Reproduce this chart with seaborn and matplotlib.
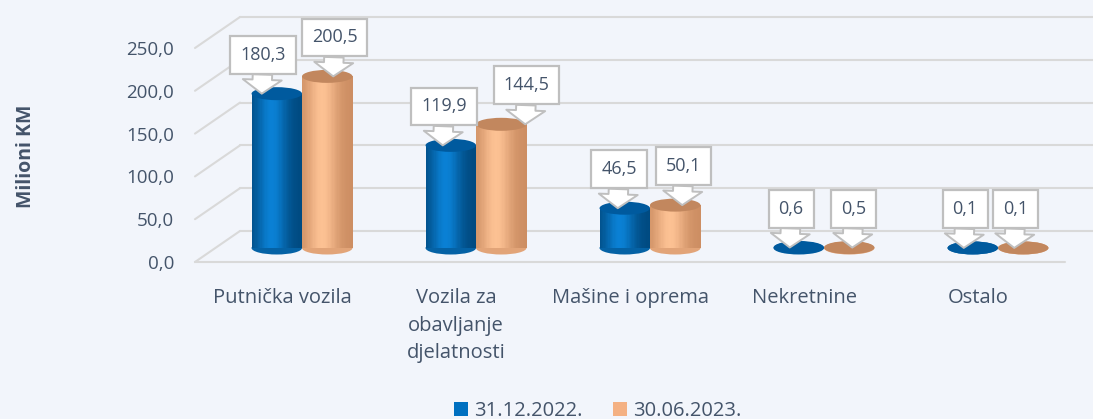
import numpy as np
import pandas as pd
import matplotlib
matplotlib.use("Agg")
import matplotlib.pyplot as plt
import matplotlib.transforms as mtransforms
from matplotlib.patches import Ellipse, Rectangle, Patch
import seaborn as sns

categories = ["Putnička vozila", "Vozila za\nobavljanje\ndjelatnosti", "Mašine i oprema", "Nekretnine", "Ostalo"]
series = ["31.12.2022.", "30.06.2023."]
values_2022 = [180.3, 119.9, 46.5, 0.6, 0.1]
values_2023 = [200.5, 144.5, 50.1, 0.5, 0.1]
yticks = [0, 50, 100, 150, 200, 250]
ytick_labels = ["0,0", "50,0", "100,0", "150,0", "200,0", "250,0"]

# label pointer horizontal offsets (pixels, style only)
tip_off_2022 = [-15, -8, -7, -9, -9]
tip_off_2023 = [6, 24, 7, 3, -9]

df = pd.DataFrame({
    "kat": categories * 2,
    "period": [series[0]] * len(categories) + [series[1]] * len(categories),
    "val": values_2022 + values_2023,
})

BG = "#F2F5FB"
TXT = "#44546A"
GRID = "#D9D9D9"
BLUE = "#0070C0"
ORANGE = "#F4B183"

sns.set_theme(style="white")
plt.rcParams["font.family"] = ["Open Sans", "DejaVu Sans"]

W, H = 1093, 419
fig = plt.figure(figsize=(W / 100, H / 100), dpi=100, facecolor=BG)
ax = fig.add_axes([195 / W, (H - 262) / H, 870 / W, (262 - 48) / H])
ax.set_facecolor("none")

palette = {series[0]: BLUE, series[1]: ORANGE}
sns.barplot(data=df, x="kat", y="val", hue="period", palette=palette, width=0.58,
            saturation=1, ax=ax, legend=False)

ax.set_xlim(-0.5, len(categories) - 0.5)
ax.set_ylim(0, 250)
for s in ax.spines.values():
    s.set_visible(False)

# perspective grid (back wall)
px_per_x = 870 / len(categories)
px_per_y = (262 - 48) / 250
dx = 45 / px_per_x
dy = 31 / px_per_y
x_left = -0.5
x_right = (W - 195) / px_per_x - 0.5
for v in yticks:
    ax.plot([x_left + dx, x_right], [v + dy, v + dy], color=GRID, lw=1.5, clip_on=False, zorder=0)
    ax.plot([x_left, x_left + dx], [v, v + dy], color=GRID, lw=1.5, clip_on=False, zorder=0)
ax.plot([x_left, len(categories) - 0.5], [0, 0], color=GRID, lw=1.5, clip_on=False, zorder=0)

ax.set_yticks(yticks)
ax.set_yticklabels(ytick_labels)
ax.tick_params(axis="y", length=0, pad=15, labelsize=13.5, labelcolor=TXT)
ax.tick_params(axis="x", length=0, pad=19, labelsize=14.5, labelcolor=TXT)
for lab in ax.get_xticklabels():
    lab.set_linespacing(1.5)
    lab.set_verticalalignment("top")
ax.set_xlabel("")
ax.set_ylabel("")

fig.text(26 / W, 1 - 156 / H, "Milioni KM", rotation=90, ha="center", va="center",
         fontsize=14, fontweight="bold", color=TXT)

off = mtransforms.offset_copy(ax.transData, fig=fig, x=20, y=14, units="dots")

shade = {
    BLUE: ("#00497F", "#0A80D4", "#005A9E"),
    ORANGE: ("#CC8D62", "#FCC193", "#C2875E"),
}

def mix(c1, c2, w):
    a = np.array(matplotlib.colors.to_rgb(c1))
    b = np.array(matplotlib.colors.to_rgb(c2))
    return tuple(a * (1 - w) + b * w)

ell_h = 13 / px_per_y
nstrip = 40
for p in list(ax.patches):
    fc = matplotlib.colors.to_hex(p.get_facecolor()).upper()
    key = BLUE if fc == BLUE.upper() else ORANGE
    dark, light, top = shade[key]
    x0, w, h = p.get_x(), p.get_width(), p.get_height()
    xc = x0 + w / 2
    idx = int(round(xc))
    p.set_visible(False)
    ax.add_patch(Ellipse((xc, 0), w, ell_h, facecolor=mix(dark, light, 0.45), edgecolor="none",
                         transform=off, zorder=3, clip_on=False))
    for i in range(nstrip):
        t = (i + 0.5) / nstrip
        wgt = np.exp(-((t - 0.4) / 0.3) ** 2)
        ax.add_patch(Rectangle((x0 + i * w / nstrip, 0), w / nstrip * 1.05, h,
                               facecolor=mix(dark, light, wgt), edgecolor="none",
                               transform=off, zorder=4, clip_on=False))
    ax.add_patch(Ellipse((xc, h), w, ell_h, facecolor=top, edgecolor="none",
                         transform=off, zorder=5, clip_on=False))
    is_blue = key == BLUE
    tip_px = (tip_off_2022 if is_blue else tip_off_2023)[idx]
    label = f"{h:.1f}".replace(".", ",")
    ax.annotate(label, xy=(xc + tip_px / px_per_x, h), xycoords=off,
                xytext=(1.0, 28), textcoords="offset points",
                ha="center", va="center", fontsize=13, color=TXT, zorder=7,
                bbox=dict(boxstyle="square,pad=0.55", fc="white", ec="#BFBFBF", lw=1.6),
                arrowprops=dict(arrowstyle="simple,head_length=0.5,head_width=1.4,tail_width=0.7",
                                mutation_scale=20, fc="white", ec="#BFBFBF", lw=1.4,
                                shrinkA=0, shrinkB=0),
                annotation_clip=False)

handles = [Patch(facecolor=BLUE, edgecolor="none", label=series[0]),
           Patch(facecolor=ORANGE, edgecolor="none", label=series[1])]
fig.legend(handles=handles, loc="center", bbox_to_anchor=(598 / W, 1 - 411 / H), ncol=2,
           frameon=False, fontsize=14.5, labelcolor=TXT, handlelength=0.7, handleheight=0.7,
           handletextpad=0.3, columnspacing=1.5)

fig.savefig("out.png", dpi=100, facecolor=BG)
